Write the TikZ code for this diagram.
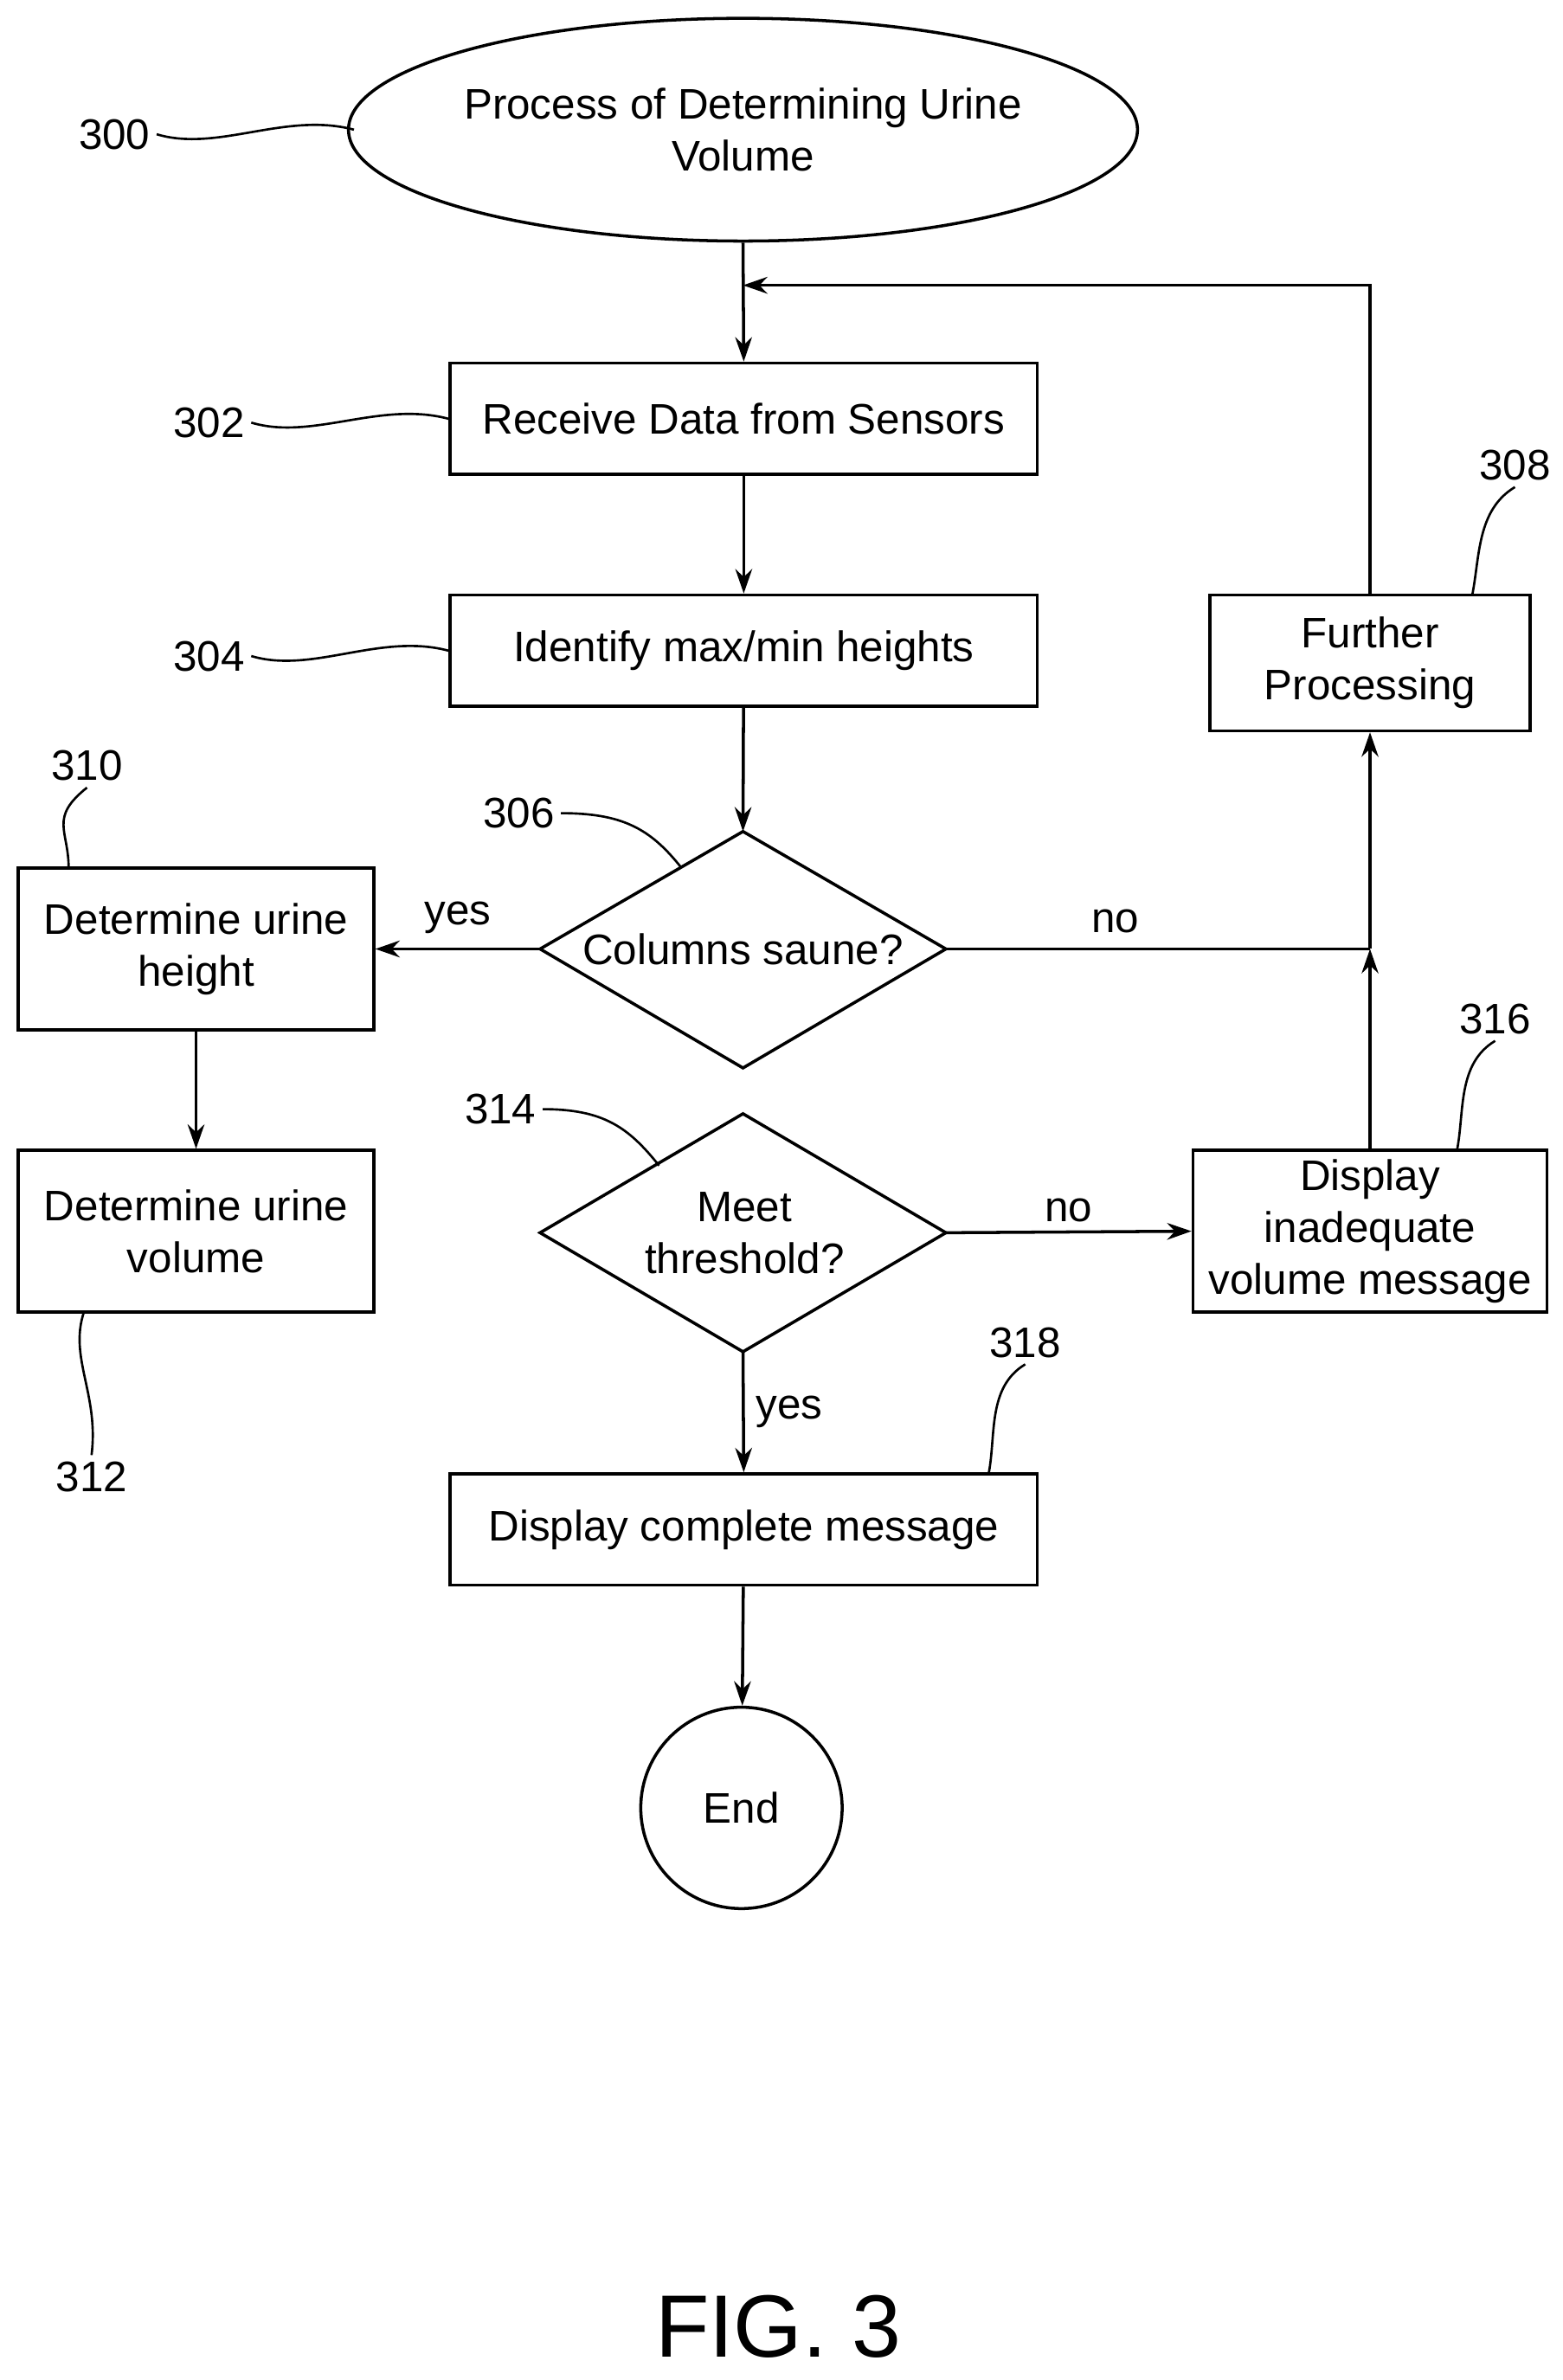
\documentclass[tikz,border=0pt]{standalone}
\usepackage{fontspec}
\setmainfont{Liberation Sans}
\usetikzlibrary{shapes.geometric,arrows.meta}
\begin{document}
\begin{tikzpicture}[x=1pt,y=-1pt,line width=2pt,
  every node/.style={font=\fontsize{28}{34}\selectfont,align=center},
  box/.style={draw,rectangle,inner sep=0pt},
  arr/.style={-{Stealth[length=16pt,width=11pt]}},
  lead/.style={line width=1.5pt}]
\useasboundingbox (0,0) rectangle (1024,1560);
\node[draw,ellipse,minimum width=510pt,minimum height=146pt,inner sep=0pt] (n300) at (487,85) {Process of Determining Urine\\Volume};
\node[box,minimum width=385pt,minimum height=73pt] (n302) at (487.5,274.5) {Receive Data from Sensors};
\node[box,minimum width=385pt,minimum height=73pt] (n304) at (487.5,426.5) {Identify max/min heights};
% diamond 306
\node (n306) at (487,622) {Columns saune?};
\coordinate (d6n) at (487,545); \coordinate (d6s) at (487,700);
\coordinate (d6w) at (354,622); \coordinate (d6e) at (620,622);
\draw (d6n) -- (d6e) -- (d6s) -- (d6w) -- cycle;
% diamond 314
\node (n314) at (488,808) {Meet\\threshold?};
\coordinate (d4n) at (487,730); \coordinate (d4s) at (487,886);
\coordinate (d4w) at (354,808); \coordinate (d4e) at (620,808);
\draw (d4n) -- (d4e) -- (d4s) -- (d4w) -- cycle;
\node[box,minimum width=233pt,minimum height=106pt] (n310) at (128.5,622) {Determine urine\\height};
\node[box,minimum width=233pt,minimum height=106pt] (n312) at (128.5,807) {Determine urine\\volume};
\node[box,minimum width=232pt,minimum height=106pt] (n316) at (898,807) {Display\\inadequate\\volume message};
\node[box,minimum width=210pt,minimum height=89pt] (n308) at (898,434.5) {Further\\Processing};
\node[box,minimum width=385pt,minimum height=73pt] (n318) at (487.5,1002.5) {Display complete message};
\node[draw,circle,minimum size=132pt,inner sep=0pt] (n320) at (486,1185) {End};
\node (fig) at (510,1525) {\fontsize{58}{66}\selectfont FIG. 3};
\coordinate (top) at (487,187);
\coordinate (loop) at (898,187);
\coordinate (j) at (898,622);
\draw[arr] (n300.south) -- (n302.north);
\draw[arr] (n302) -- (n304);
\draw[arr] (n304) -- (d6n);
\draw[arr] (d6w) -- node[above=6pt]{yes} (n310.east);
\draw[arr] (n310) -- (n312);
\draw (d6e) -- node[above=6pt,pos=0.4]{no} (j);
\draw[arr] (j) -- (n308.south);
\draw[arr] (n316.north) -- (j);
\draw[arr] (n308.north) -- (loop) -- (top);
\draw[arr] (d4e) -- node[above=2pt]{no} (n316.west);
\draw[arr] (d4s) -- node[right=4pt]{yes} (n318.north);
\draw[arr] (n318) -- (n320);
% reference labels
\node (l300) at (75,88) {300};
\node (l302) at (137,277) {302};
\node (l304) at (137,430) {304};
\node (l306) at (340,533) {306};
\node (l310) at (57,502) {310};
\node (l312) at (60,968) {312};
\node (l314) at (328,727) {314};
\node (l316) at (980,668) {316};
\node (l318) at (672,880) {318};
\node (l308) at (993,305) {308};
\coordinate (e300) at (232,85);
\coordinate (e306) at (446,568);
\coordinate (e314) at (432,764);
\coordinate (e310) at (45,569);
\coordinate (e312) at (55,860);
\coordinate (e316) at (955,754);
\coordinate (e318) at (648,966);
\coordinate (e308) at (965,390);
\draw[lead] (l300.east) .. controls +(40,12) and +(-45,-12) .. (e300);
\draw[lead] (l302.east) .. controls +(40,12) and +(-45,-12) .. (n302.west);
\draw[lead] (l304.east) .. controls +(40,12) and +(-45,-12) .. (n304.west);
\draw[lead] (l306.east) .. controls +(40,0) and +(-20,-25) .. (e306);
\draw[lead] (l314.east) .. controls +(40,0) and +(-20,-25) .. (e314);
\draw[lead] (l310.south) .. controls +(-25,20) and +(0,-25) .. (e310);
\draw[lead] (l312.north) .. controls +(5,-40) and +(-10,30) .. (e312);
\draw[lead] (l316.south) .. controls +(-25,15) and +(5,-25) .. (e316);
\draw[lead] (l318.south) .. controls +(-25,15) and +(5,-25) .. (e318);
\draw[lead] (l308.south) .. controls +(-25,15) and +(5,-25) .. (e308);
\end{tikzpicture}
\end{document}
